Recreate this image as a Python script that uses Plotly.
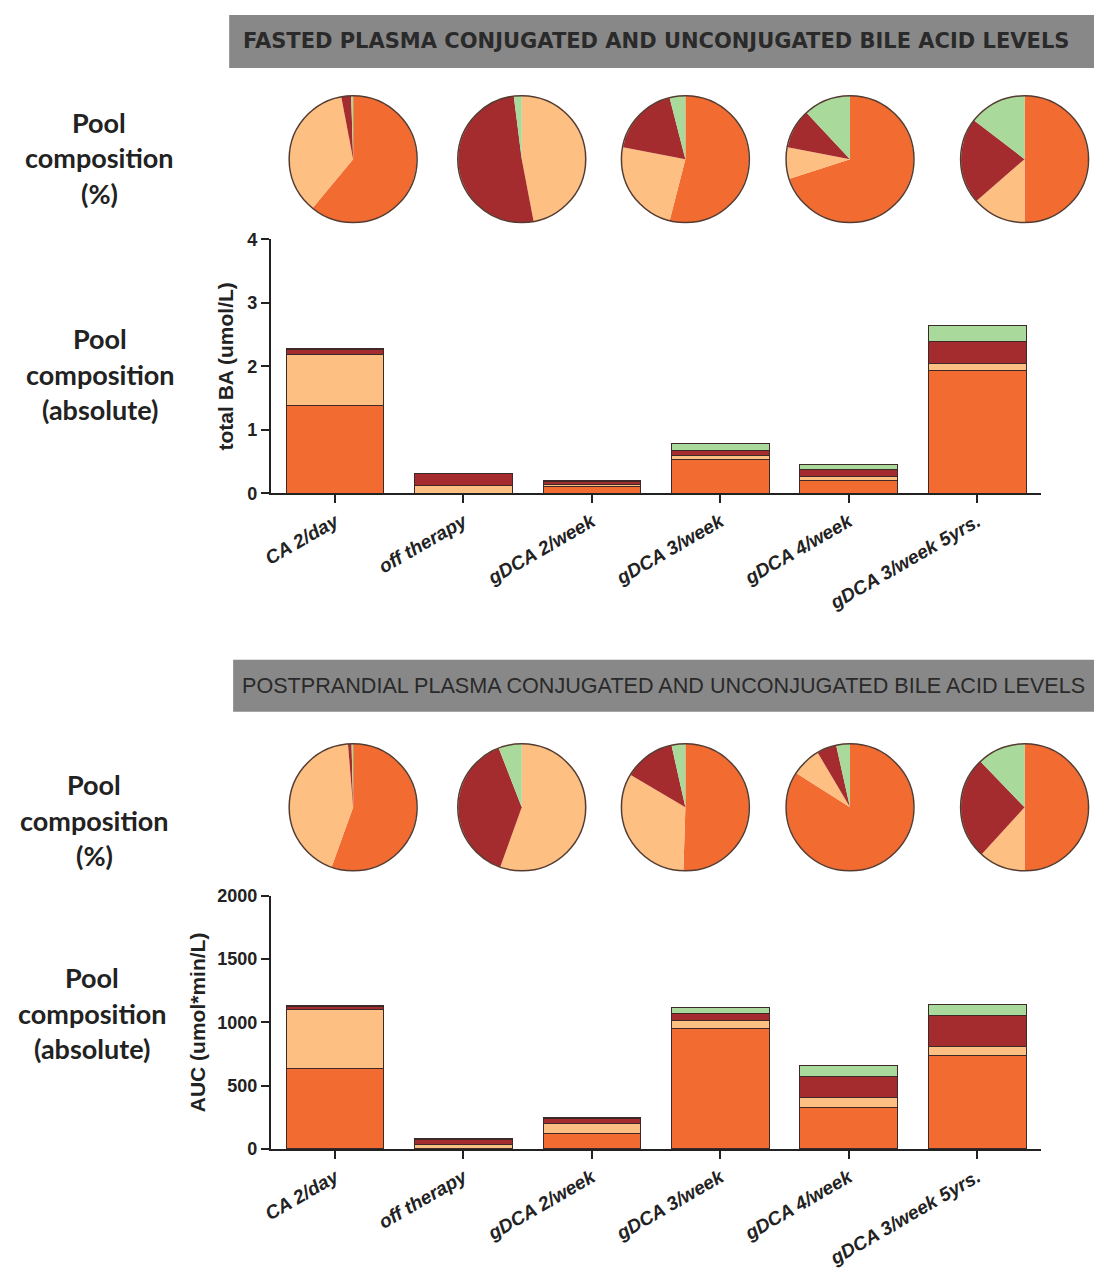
import plotly.graph_objects as go

# ---------------- data ----------------
categories = ["CA 2/day", "off therapy", "gDCA 2/week", "gDCA 3/week",
              "gDCA 4/week", "gDCA 3/week 5yrs."]
components = ["component 1", "component 2", "component 3", "component 4"]
colors = ["#F26B30", "#FDBF82", "#A52C2E", "#A9D99B"]

# Fasted plasma, absolute (umol/L)
fasted_orange = [1.38, 0.00, 0.10, 0.53, 0.20, 1.93]
fasted_peach = [0.81, 0.12, 0.04, 0.06, 0.065, 0.12]
fasted_red = [0.08, 0.19, 0.05, 0.08, 0.105, 0.34]
fasted_green = [0.01, 0.005, 0.005, 0.11, 0.09, 0.26]

# Postprandial plasma, absolute AUC (umol*min/L)
post_orange = [636, 0, 122, 948, 330, 740]
post_peach = [468, 36, 78, 65, 73, 70]
post_red = [21, 41, 44, 57, 168, 247]
post_green = [5, 2, 2, 47, 86, 86]

# Pool composition (%) pies (first five conditions)
pie_categories = categories[:5]
fasted_pie_orange = [61.0, 0.0, 54.0, 70.0, 50.0]
fasted_pie_peach = [36.0, 47.0, 24.0, 8.0, 13.6]
fasted_pie_red = [2.5, 51.0, 18.0, 10.0, 21.8]
fasted_pie_green = [0.5, 2.0, 4.0, 12.0, 14.6]

post_pie_orange = [55.5, 0.0, 50.5, 84.0, 50.0]
post_pie_peach = [43.2, 55.5, 33.0, 7.5, 11.8]
post_pie_red = [0.9, 38.6, 13.0, 5.0, 26.0]
post_pie_green = [0.4, 5.9, 3.5, 3.5, 12.2]

fasted_title = "FASTED PLASMA CONJUGATED AND UNCONJUGATED BILE ACID LEVELS"
post_title = "POSTPRANDIAL PLASMA CONJUGATED AND UNCONJUGATED BILE ACID LEVELS"

# ---------------- layout geometry (pixels) ----------------
W, H = 1094, 1279


def px_x(x):
    return x / W


def px_y(y):
    return 1 - y / H


fig = go.Figure()

fasted_series = [fasted_orange, fasted_peach, fasted_red, fasted_green]
post_series = [post_orange, post_peach, post_red, post_green]

for name, col, vals in zip(components, colors, fasted_series):
    fig.add_trace(go.Bar(x=categories, y=vals, name=name, xaxis="x", yaxis="y",
                         marker=dict(color=col, line=dict(color="#3d2a28", width=1)),
                         width=0.76, showlegend=False))
for name, col, vals in zip(components, colors, post_series):
    fig.add_trace(go.Bar(x=categories, y=vals, name=name, xaxis="x2", yaxis="y2",
                         marker=dict(color=col, line=dict(color="#3d2a28", width=1)),
                         width=0.76, showlegend=False))

pie_cx = [347, 517, 682, 848, 1024]
D = 129
shapes = []


def add_pies(orange, peach, red, green, cy):
    for i, cat in enumerate(pie_categories):
        cx = pie_cx[i]
        xd = [px_x(cx - D / 2), px_x(cx + D / 2)]
        yd = [px_y(cy + D / 2), px_y(cy - D / 2)]
        fig.add_trace(go.Pie(
            labels=components,
            values=[orange[i], peach[i], red[i], green[i]],
            marker=dict(colors=colors, line=dict(width=0)),
            sort=False, direction="clockwise", rotation=0,
            textinfo="none", domain=dict(x=xd, y=yd), name=cat,
            showlegend=False))
        shapes.append(dict(type="circle", xref="paper", yref="paper",
                           x0=xd[0], x1=xd[1], y0=yd[0], y1=yd[1],
                           line=dict(color="#553b30", width=1.5)))


add_pies(fasted_pie_orange, fasted_pie_peach, fasted_pie_red, fasted_pie_green, 151.5)
add_pies(post_pie_orange, post_pie_peach, post_pie_red, post_pie_green, 810)

# banners
shapes.append(dict(type="rect", xref="paper", yref="paper", x0=px_x(222), x1=1,
                   y0=px_y(59), y1=px_y(5), fillcolor="#888888", line=dict(width=0),
                   layer="below"))
shapes.append(dict(type="rect", xref="paper", yref="paper", x0=px_x(226), x1=1,
                   y0=px_y(713), y1=px_y(660), fillcolor="#888888", line=dict(width=0),
                   layer="below"))

annotations = [
    dict(text=fasted_title, x=px_x(652), y=px_y(32), xref="paper", yref="paper",
         showarrow=False, xanchor="center", yanchor="middle",
         font=dict(family="DejaVu Sans", size=21, color="#2a2a2a", weight="bold")),
    dict(text=post_title, x=px_x(660), y=px_y(686), xref="paper", yref="paper",
         showarrow=False, xanchor="center", yanchor="middle",
         font=dict(family="Liberation Sans", size=21.6, color="#2a2a2a")),
]


def side_label(lines, cx, ys):
    for t, y in zip(lines, ys):
        annotations.append(dict(text=t, x=px_x(cx), y=px_y(y), xref="paper", yref="paper",
                                showarrow=False, xanchor="center", yanchor="middle",
                                font=dict(family="Lato", size=27, color="#222222",
                                          weight="bold")))


side_label(["Pool", "composition", "(%)"], 91, [114, 150, 186])
side_label(["Pool", "composition", "(absolute)"], 92, [334, 370, 406])
side_label(["Pool", "composition", "(%)"], 86, [787, 823, 859])
side_label(["Pool", "composition", "(absolute)"], 84, [983, 1019, 1055])

axis_common = dict(showline=True, linecolor="#222222", linewidth=2, ticks="outside",
                   ticklen=8, tickwidth=2, tickcolor="#222222", showgrid=False,
                   zeroline=False)
xfont = dict(family="Liberation Sans", size=19, color="#222222", weight="bold",
             style="italic")
yfont = dict(family="Liberation Sans", size=18, color="#222222", weight="bold")
ytitle_font = dict(family="Liberation Sans", size=21, color="#222222", weight="bold")

xdom = [px_x(264), px_x(1041)]

fig.update_layout(
    width=W, height=H, margin=dict(l=0, r=0, t=0, b=0),
    paper_bgcolor="white", plot_bgcolor="white", barmode="stack",
    shapes=shapes, annotations=annotations, showlegend=False,
    xaxis=dict(domain=xdom, anchor="y", range=[-0.5, 5.5], tickangle=-30,
               tickfont=xfont, **axis_common),
    yaxis=dict(domain=[px_y(491), px_y(233)], anchor="x", range=[0, 4], dtick=1,
               tickfont=yfont,
               title=dict(text="total BA (umol/L)", font=ytitle_font, standoff=8),
               **axis_common),
    xaxis2=dict(domain=xdom, anchor="y2", range=[-0.5, 5.5], tickangle=-30,
                tickfont=xfont, **axis_common),
    yaxis2=dict(domain=[px_y(1157), px_y(900)], anchor="x2", range=[0, 2000], dtick=500,
                tickfont=yfont,
                title=dict(text="AUC (umol*min/L)", font=ytitle_font, standoff=6),
                **axis_common),
)

fig.write_html("out.html", config={"displayModeBar": False},
               post_script="document.body.style.margin='0px';")
